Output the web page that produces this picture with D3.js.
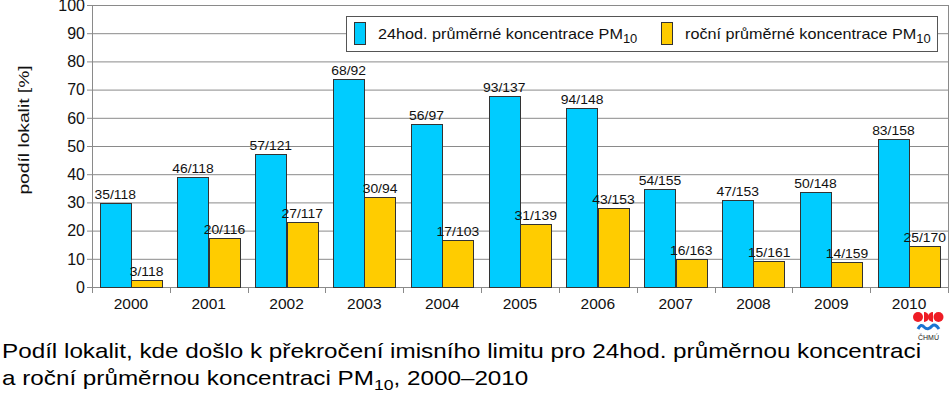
<!DOCTYPE html>
<html><head><meta charset="utf-8">
<script src="https://cdn.jsdelivr.net/npm/d3@7"></script>
<style>
body{margin:0;background:#fff;}
svg{display:block;font-family:"Liberation Sans",Arial,sans-serif;}
</style></head>
<body>
<svg id="chart" width="950" height="398"></svg>
<script>
const years = ["2000","2001","2002","2003","2004","2005","2006","2007","2008","2009","2010"];
const daily = [29.7,39.0,47.1,73.9,57.7,67.9,63.5,34.8,30.7,33.8,52.5];
const annual = [2.5,17.2,23.1,31.9,16.5,22.3,28.1,9.8,9.3,8.8,14.7];
const dailyLabels = ["35/118","46/118","57/121","68/92","56/97","93/137","94/148","54/155","47/153","50/148","83/158"];
const annualLabels = ["3/118","20/116","27/117","30/94","17/103","31/139","43/153","16/163","15/161","14/159","25/170"];
const yTicks = [0,10,20,30,40,50,60,70,80,90,100];
const seriesNames = ["24hod. průměrné koncentrace PM","roční průměrné koncentrace PM"];
const colors = ["#00CCFF","#FFCC00"];

const svg = d3.select("#chart");
const L = 92, R = 948, T = 5, B = 287;

// horizontal stretch helper (keeps anchor point fixed)
function stretch(sel, sx, ax, ay) {
  sel.attr("transform", `translate(${ax},${ay}) scale(${sx},1) translate(${-ax},${-ay})`);
}

const x0 = d3.scaleBand().domain(years).range([L, R]).paddingInner(0).paddingOuter(0);
const x1 = d3.scaleBand().domain([0,1]).range([0, x0.bandwidth()]).paddingInner(0).paddingOuter(0.24);
const y = d3.scaleLinear().domain([0,100]).range([B, T]);

// gridlines
svg.append("g").selectAll("line").data(yTicks).join("line")
  .attr("x1", L-5).attr("x2", R).attr("y1", d=>y(d)+0.5).attr("y2", d=>y(d)+0.5)
  .attr("stroke", "#8a8a8a").attr("stroke-width", 1);
svg.append("line").attr("x1", R+0.5).attr("x2", R+0.5).attr("y1", T).attr("y2", B)
  .attr("stroke", "#8a8a8a");
svg.append("line").attr("x1", L+0.5).attr("x2", L+0.5).attr("y1", T).attr("y2", B+6)
  .attr("stroke", "#8a8a8a");

// x ticks at category boundaries
const bounds = years.map(d=>x0(d)).concat([R]);
svg.append("g").selectAll("line").data(bounds.slice(1)).join("line")
  .attr("x1", d=>Math.round(d)+0.5).attr("x2", d=>Math.round(d)+0.5).attr("y1", B).attr("y2", B+6)
  .attr("stroke", "#8a8a8a");

// y tick labels
svg.append("g").selectAll("text").data(yTicks).join("text")
  .attr("x", L-7).attr("y", d=>y(d)).attr("dy", "0.36em")
  .attr("text-anchor", "end").attr("font-size", 16).attr("fill", "#111")
  .text(d=>d);

// x labels
svg.append("g").selectAll("text").data(years).join("text")
  .attr("x", d=>x0(d)+x0.bandwidth()/2).attr("y", 309)
  .attr("text-anchor", "middle").attr("font-size", 15.5).attr("fill", "#111")
  .text(d=>d);

// y title
svg.append("text").attr("transform", "translate(29,130) rotate(-90) scale(1.24,1)")
  .attr("text-anchor", "middle").attr("font-size", 15.5).attr("fill", "#111")
  .text("podíl lokalit [%]");

// bars
const seriesVals = [daily, annual];
const seriesLbls = [dailyLabels, annualLabels];
seriesVals.forEach((vals, si) => {
  const g = svg.append("g");
  g.selectAll("rect").data(years).join("rect")
    .attr("x", (d)=>Math.round(x0(d)+x1(si))+0.5)
    .attr("y", (d,i)=>Math.round(y(vals[i]))+0.5)
    .attr("width", Math.round(x1.bandwidth()))
    .attr("height", (d,i)=>Math.round(B - y(vals[i])))
    .attr("fill", colors[si]).attr("stroke", "#333").attr("stroke-width", 1);
  g.selectAll("text").data(years).join("text")
    .attr("x", (d)=>x0(d)+x1(si)+x1.bandwidth()/2)
    .attr("y", (d,i)=>y(vals[i])-4)
    .attr("text-anchor", "middle").attr("font-size", 13).attr("fill", "#111")
    .text((d,i)=>seriesLbls[si][i])
    .each(function(d,i){
      const t = d3.select(this);
      stretch(t, 1.07, +t.attr("x"), 0);
    });
});

// legend
const lg = svg.append("g");
lg.append("rect").attr("x", 346.5).attr("y", 16.5).attr("width", 591).attr("height", 35)
  .attr("fill", "#fff").attr("stroke", "#555");
const legX = [354, 661];
seriesNames.forEach((n, i) => {
  lg.append("rect").attr("x", legX[i]+0.5).attr("y", 22.5).attr("width", 11).attr("height", 22)
    .attr("fill", colors[i]).attr("stroke", "#333");
  const tx = legX[i]+24;
  const t = lg.append("text").attr("x", tx).attr("y", 39).attr("font-size", 15).attr("fill", "#111");
  t.append("tspan").text(n);
  t.append("tspan").attr("font-size", 12).attr("dy", 4).text("10");
  stretch(t, 1.08, tx, 0);
});

// caption
const cap = svg.append("g").attr("font-size", 20).attr("fill", "#000");
stretch(cap, 1.213, 2, 0);
cap.append("text").attr("x", 2).attr("y", 358).text("Podíl lokalit, kde došlo k překročení imisního limitu pro 24hod. průměrnou koncentraci");
const c2 = cap.append("text").attr("x", 2).attr("y", 385);
c2.append("tspan").text("a roční průměrnou koncentraci PM");
c2.append("tspan").attr("font-size", 14.5).attr("dy", 5).text("10");
c2.append("tspan").attr("dy", -5).text(", 2000–2010");

// logo
const logo = svg.append("g");
logo.append("circle").attr("cx", 918).attr("cy", 317).attr("r", 5).attr("fill", "#ee1c25");
logo.append("circle").attr("cx", 938.5).attr("cy", 317).attr("r", 5).attr("fill", "#ee1c25");
logo.append("path").attr("d", "M924,312 A5,5 0 0,1 924,322 Z").attr("fill", "#ee1c25");
logo.append("path").attr("d", "M933,312 A5,5 0 0,0 933,322 Z").attr("fill", "#ee1c25");
logo.append("path").attr("d", "M918,329 Q921,323 924,327 Q928,331 932,326 Q935,323 939,329")
  .attr("fill", "none").attr("stroke", "#1a75d2").attr("stroke-width", 3);
logo.append("text").attr("x", 928.5).attr("y", 340).attr("text-anchor", "middle")
  .attr("font-size", 7).attr("fill", "#222").text("ČHMÚ");
</script>
</body></html>
